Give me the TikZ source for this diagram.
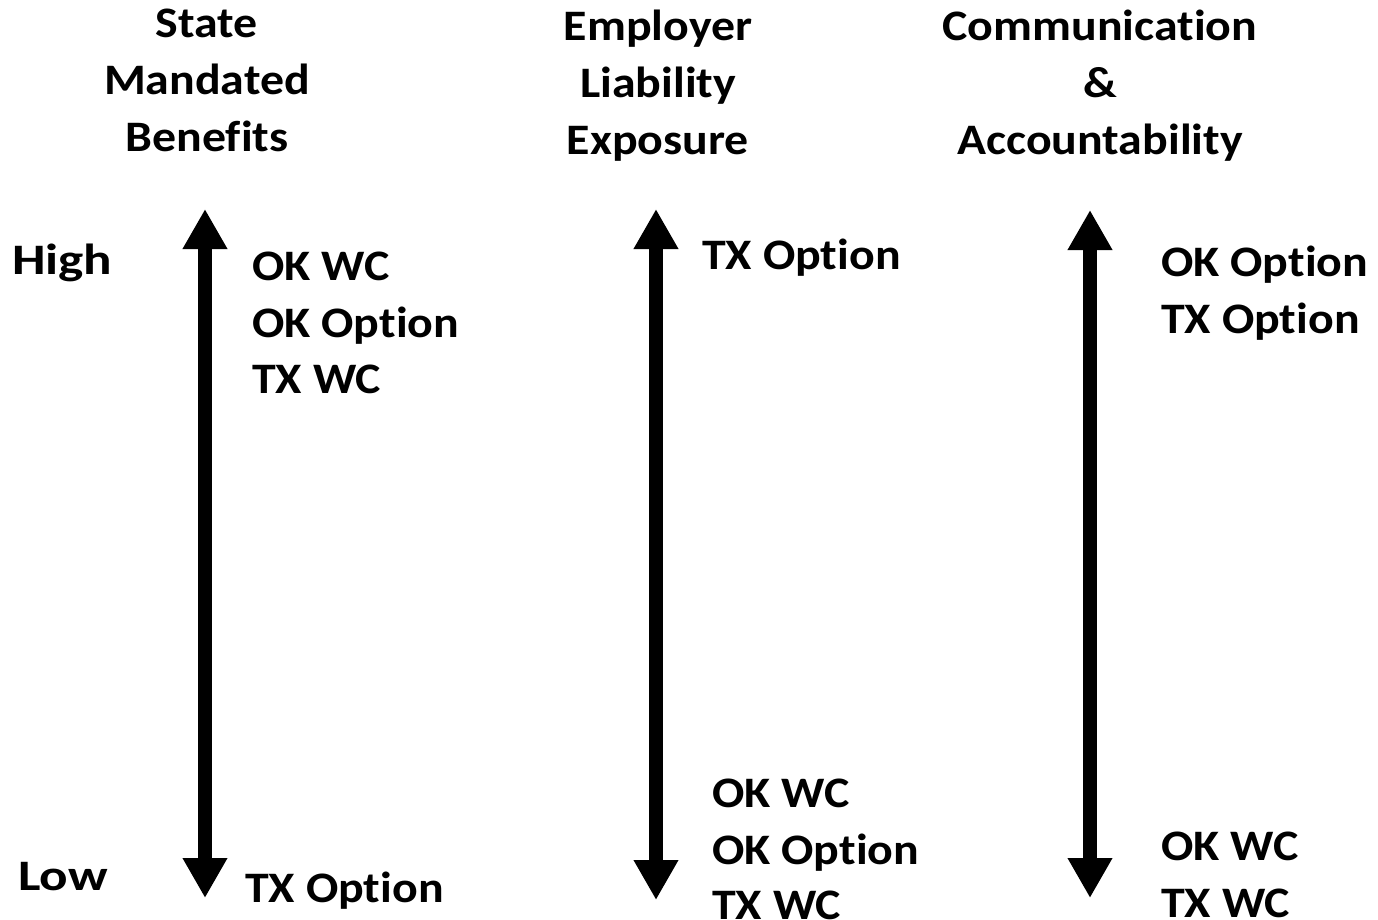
\documentclass[tikz,border=0pt]{standalone}
\usepackage{fontspec}
\setmainfont{Carlito}[FakeStretch=1.10,Ligatures=CommonOff]
\usetikzlibrary{arrows.meta}
\tikzset{
  lbl/.style={anchor=base west,inner sep=0pt,font=\fontsize{43.5}{57}\selectfont\bfseries},
  ttl/.style={anchor=base,inner sep=0pt,font=\fontsize{43.5}{57}\selectfont\bfseries},
  bigarrow/.style={line width=14pt,{Triangle[length=40pt,width=42pt]}-{Triangle[length=40pt,width=42pt]}}
}
\begin{document}
\begin{tikzpicture}[x=1pt,y=-1pt]
\useasboundingbox (0,0) rectangle (1378,920);
% titles
\node[ttl] (t1a) at (207,38) {State};
\node[ttl] (t1b) at (207,95) {Mandated};
\node[ttl] (t1c) at (207,152) {Benefits};
\node[ttl] (t2a) at (658,41) {Employer};
\node[ttl] (t2b) at (658,98) {Liability};
\node[ttl] (t2c) at (658,155) {Exposure};
\node[ttl] (t3a) at (1100,41) {Communication};
\node[ttl] (t3b) at (1100,98) {\&};
\node[ttl] (t3c) at (1100,155) {Accountability};
% high/low
\node[lbl] (hi) at (12,274) {\scalebox{1.11}[1]{High}};
\node[lbl] (lo) at (18,890) {\scalebox{1.11}[1]{Low}};
% arrows
\coordinate (a1t) at (205,209);
\coordinate (a1b) at (205,898);
\coordinate (a2t) at (656,209);
\coordinate (a2b) at (656,900);
\coordinate (a3t) at (1090,210);
\coordinate (a3b) at (1090,898);
\draw[bigarrow] (a1b) -- (a1t);
\draw[bigarrow] (a2b) -- (a2t);
\draw[bigarrow] (a3b) -- (a3t);
% column 1
\node[lbl] (c1a) at (252,280) {OK WC};
\node[lbl] (c1b) at (252,337) {OK Option};
\node[lbl] (c1c) at (252,393) {TX WC};
\node[lbl] (c1d) at (245,902) {TX Option};
% column 2
\node[lbl] (c2a) at (702,269) {TX Option};
\node[lbl] (c2b) at (712,807) {OK WC};
\node[lbl] (c2c) at (712,864) {OK Option};
\node[lbl] (c2d) at (712,919) {TX WC};
% column 3
\node[lbl] (c3a) at (1161,276) {OK Option};
\node[lbl] (c3b) at (1161,333) {TX Option};
\node[lbl] (c3c) at (1161,860) {OK WC};
\node[lbl] (c3d) at (1161,917) {TX WC};
\end{tikzpicture}
\end{document}
